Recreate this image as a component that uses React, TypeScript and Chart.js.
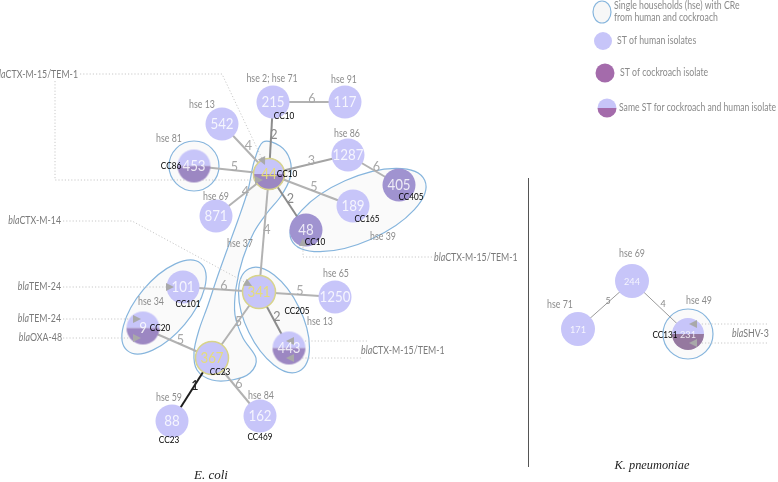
import React, { useEffect, useRef } from "react";
import { Chart, registerables } from "chart.js";

Chart.register(...registerables);

// ---------------- data ----------------
const NODE_ST = ["215", "117", "542", "453", "44", "1287", "871", "189", "48", "405", "101", "9", "341", "1250", "443", "367", "88", "162", "244", "171", "231"];
const NODE_X = [273, 345, 222, 194, 269, 348, 216, 353, 306, 399, 183, 143, 259, 335, 289, 212, 172, 260, 632, 578, 688];
const NODE_Y = [102, 102, 124, 166, 174, 155, 216, 206, 230, 185, 287, 328, 292, 297, 348, 358, 421, 416, 281, 329, 334];
const NODE_SOURCE = ["human", "human", "human", "both", "both", "human", "human", "human", "roach", "roach", "human", "both", "human", "human", "both", "human", "human", "human", "human", "human", "both"];
const NODE_SPECIES = ["E", "E", "E", "E", "E", "E", "E", "E", "E", "E", "E", "E", "E", "E", "E", "E", "E", "E", "K", "K", "K"];
const FOUNDER_ST = ["44", "341", "367"];

const EDGE_FROM = ["215", "215", "542", "453", "44", "44", "44", "871", "44", "1287", "101", "341", "341", "341", "9", "367", "367", "244", "244"];
const EDGE_TO = ["117", "44", "44", "44", "1287", "189", "48", "44", "341", "405", "341", "1250", "443", "367", "367", "88", "162", "171", "231"];
const EDGE_ALLELES = [6, 2, 4, 5, 3, 5, 2, 4, 4, 6, 6, 5, 2, 5, 5, 1, 6, 5, 4];

const HSE_TEXT = ["hse 2; hse 71", "hse 91", "hse 13", "hse 81", "hse 86", "hse 69", "hse 37", "hse 39", "hse 65", "hse 34", "hse 13", "hse 59", "hse 84", "hse 69", "hse 71", "hse 49"];
const CC_TEXT = ["CC86", "CC10", "CC10", "CC10", "CC165", "CC405", "CC101", "CC20", "CC205", "CC23", "CC23", "CC469", "CC131"];
const GENE_NAME = ["CTX-M-15/TEM-1", "CTX-M-14", "TEM-24", "TEM-24", "OXA-48", "CTX-M-15/TEM-1", "CTX-M-15/TEM-1", "SHV-3"];
const LEGEND_TEXT = ["Single households (hse) with CRe", "from human and cockroach", "ST of human isolates", "ST of cockroach isolate", "Same ST for cockroach and human isolate"];
const SPECIES_TITLE = ["E. coli", "K. pneumoniae"];

// ---------------- layout (annotation placement, data units = px of the 778x482 frame) ----------------
const HSE_POS = [[272, 79], [344, 80], [202, 105], [169, 139], [347, 134], [216, 197], [240, 244], [383, 237], [336, 274], [151, 302], [320, 322], [169, 398], [261, 396], [632, 254], [560, 305], [699, 301]];
const CC_POS = [[171, 166], [284, 116], [287, 174], [315, 242], [367, 219], [411, 197], [188, 304], [160, 328], [297, 311], [220, 372], [169, 440], [260, 437], [665, 335]];
const GENE_POS: [number, number, string][] = [[78, 75, "right"], [61, 221, "right"], [61, 287, "right"], [61, 319, "right"], [62, 338, "right"], [434, 258, "left"], [361, 351, "left"], [732, 334, "left"]];
const LEADERS: { pts: number[][]; arrow: boolean }[] = [
  { pts: [[55, 81], [55, 180], [263, 180]], arrow: true },
  { pts: [[80, 74], [222, 74], [265, 165]], arrow: true },
  { pts: [[63, 221], [132, 221], [252, 286]], arrow: true },
  { pts: [[63, 287], [174, 287]], arrow: true },
  { pts: [[63, 319], [141, 319]], arrow: true },
  { pts: [[63, 338], [141, 338]], arrow: true },
  { pts: [[432, 257], [303, 257], [303, 238]], arrow: true },
  { pts: [[367, 341], [286, 341]], arrow: true },
  { pts: [[361, 358], [286, 358]], arrow: true },
  { pts: [[767, 324], [689, 324]], arrow: true },
  { pts: [[767, 343], [689, 343]], arrow: true },
];
const HULLS: any[] = [
  { kind: "ellipse", cx: 194, cy: 166, rx: 25, ry: 25, rot: 0 },
  { kind: "ellipse", cx: 688, cy: 334, rx: 25, ry: 25, rot: 0 },
  { kind: "ellipse", cx: 358, cy: 210, rx: 73, ry: 32, rot: -24 },
  { kind: "ellipse", cx: 164, cy: 307, rx: 57, ry: 27, rot: -50 },
  { kind: "ellipse", cx: 274, cy: 320, rx: 57, ry: 28, rot: 64 },
  {
    kind: "path",
    pts: [[263, 142], [280, 146], [290, 160], [290, 178], [281, 196], [267, 213], [254, 232], [243, 258], [236, 288], [235, 315], [243, 338], [256, 358], [250, 373], [232, 380], [212, 380], [197, 370], [194, 352], [199, 330], [208, 305], [217, 278], [227, 250], [238, 220], [248, 190], [254, 162]],
  },
];

// ---------------- styles ----------------
const HUMAN = "#c7c5f9";
const ROACH = "#a093d0";
const MIX_BOTTOM = "#9c87c2";
const MIX_BOTTOM_K = "#95789f";
const LEG_ROACH = "#a46bab";
const RING = "#d8d48a";
const HULL_STROKE = "#86b5dd";
const FONT = "Lato, 'Open Sans', sans-serif";

function makeSplit(r: number, top: string, bottom: string, ring?: string) {
  const pad = 2;
  const size = Math.ceil(2 * r + 2 * pad);
  const c = document.createElement("canvas");
  c.width = size;
  c.height = size;
  const g = c.getContext("2d")!;
  const m = size / 2;
  g.beginPath();
  g.arc(m, m, r, Math.PI, 2 * Math.PI);
  g.closePath();
  g.fillStyle = top;
  g.fill();
  g.beginPath();
  g.arc(m, m, r, 0, Math.PI);
  g.closePath();
  g.fillStyle = bottom;
  g.fill();
  if (ring) {
    g.beginPath();
    g.arc(m, m, r - 0.5, 0, 2 * Math.PI);
    g.strokeStyle = ring;
    g.lineWidth = 1.5;
    g.stroke();
  }
  return c;
}

function txt(ctx: CanvasRenderingContext2D, s: string, x: number, y: number, font: string, color: string, align: CanvasTextAlign = "center", hs = 0.86) {
  ctx.save();
  ctx.font = font;
  ctx.fillStyle = color;
  ctx.textBaseline = "middle";
  ctx.textAlign = align;
  ctx.translate(x, y);
  ctx.scale(hs, 1);
  ctx.fillText(s, 0, 0);
  ctx.restore();
}

function smoothClosed(ctx: CanvasRenderingContext2D, pts: number[][]) {
  const n = pts.length;
  ctx.moveTo(pts[0][0], pts[0][1]);
  for (let i = 0; i < n; i++) {
    const p0 = pts[(i - 1 + n) % n], p1 = pts[i], p2 = pts[(i + 1) % n], p3 = pts[(i + 2) % n];
    ctx.bezierCurveTo(
      p1[0] + (p2[0] - p0[0]) / 6, p1[1] + (p2[1] - p0[1]) / 6,
      p2[0] - (p3[0] - p1[0]) / 6, p2[1] - (p3[1] - p1[1]) / 6,
      p2[0], p2[1]
    );
  }
  ctx.closePath();
}

function arrowHead(ctx: CanvasRenderingContext2D, fx: number, fy: number, tx: number, ty: number) {
  const dx = tx - fx, dy = ty - fy;
  const L = Math.hypot(dx, dy) || 1;
  const ux = dx / L, uy = dy / L;
  const len = 8, hw = 4;
  ctx.beginPath();
  ctx.moveTo(tx, ty);
  ctx.lineTo(tx - ux * len - uy * hw, ty - uy * len + ux * hw);
  ctx.lineTo(tx - ux * len + uy * hw, ty - uy * len - ux * hw);
  ctx.closePath();
  ctx.fillStyle = "#a9a9a9";
  ctx.fill();
}

const nodeIndex = (st: string) => NODE_ST.indexOf(st);

const networkPlugin = {
  id: "network",
  beforeDatasetsDraw(chart: any) {
    const { ctx, scales } = chart;
    const X = (v: number) => scales.x.getPixelForValue(v);
    const Y = (v: number) => scales.y.getPixelForValue(v);
    const kx = X(1) - X(0), ky = Y(1) - Y(0);
    ctx.save();
    HULLS.forEach((h) => {
      ctx.beginPath();
      if (h.kind === "ellipse") {
        ctx.ellipse(X(h.cx), Y(h.cy), h.rx * kx, h.ry * ky, (h.rot * Math.PI) / 180, 0, Math.PI * 2);
      } else {
        smoothClosed(ctx, h.pts.map((p: number[]) => [X(p[0]), Y(p[1])]));
      }
      ctx.fillStyle = "rgba(238,238,238,0.3)";
      ctx.fill();
      ctx.strokeStyle = HULL_STROKE;
      ctx.lineWidth = 1.2;
      ctx.stroke();
    });
    ctx.setLineDash([1.2, 2]);
    ctx.strokeStyle = "#c8c8c8";
    ctx.lineWidth = 1;
    LEADERS.forEach((l) => {
      const pts = l.pts.map((p) => [X(p[0]), Y(p[1])]);
      const n = pts.length;
      const a = pts[n - 2], b = pts[n - 1];
      const L = Math.hypot(b[0] - a[0], b[1] - a[1]);
      const end = l.arrow ? [b[0] - ((b[0] - a[0]) / L) * 7, b[1] - ((b[1] - a[1]) / L) * 7] : b;
      ctx.beginPath();
      ctx.moveTo(pts[0][0], pts[0][1]);
      for (let i = 1; i < n - 1; i++) ctx.lineTo(pts[i][0], pts[i][1]);
      ctx.lineTo(end[0], end[1]);
      ctx.stroke();
    });
    ctx.setLineDash([]);
    ctx.beginPath();
    ctx.moveTo(X(528) + 0.5, Y(178));
    ctx.lineTo(X(528) + 0.5, Y(467));
    ctx.strokeStyle = "#555";
    ctx.lineWidth = 1;
    ctx.stroke();
    ctx.restore();
  },
  afterDatasetsDraw(chart: any) {
    const { ctx, scales } = chart;
    const X = (v: number) => scales.x.getPixelForValue(v);
    const Y = (v: number) => scales.y.getPixelForValue(v);
    ctx.save();
    LEADERS.forEach((l) => {
      const n = l.pts.length;
      const a = l.pts[n - 2], b = l.pts[n - 1];
      if (l.arrow) arrowHead(ctx, X(a[0]), Y(a[1]), X(b[0]), Y(b[1]));
    });
    NODE_ST.forEach((st, i) => {
      const k = NODE_SPECIES[i] === "K";
      const founder = FOUNDER_ST.includes(st);
      txt(ctx, st, X(NODE_X[i]), Y(NODE_Y[i]) + 0.5, `${k ? 10 : 14.5}px ${FONT}`, founder ? "#e6dd7a" : "rgba(255,255,255,0.82)", "center", 0.92);
    });
    EDGE_FROM.forEach((f, i) => {
      const a = nodeIndex(f), b = nodeIndex(EDGE_TO[i]);
      const mx = (NODE_X[a] + NODE_X[b]) / 2 + 3;
      const my = (NODE_Y[a] + NODE_Y[b]) / 2 - 4;
      const d = EDGE_ALLELES[i];
      const k = NODE_SPECIES[a] === "K";
      const col = d === 1 ? "#222" : d === 2 ? "#8a8a8a" : "#a8a8a8";
      txt(ctx, String(d), X(mx), Y(my), `${k ? 10 : 14}px ${FONT}`, k ? "#888" : col, "center", 0.9);
    });
    HSE_TEXT.forEach((s, i) => txt(ctx, s, X(HSE_POS[i][0]), Y(HSE_POS[i][1]), `10.5px ${FONT}`, "#8c8c8c", "center", 0.84));
    CC_TEXT.forEach((s, i) => txt(ctx, s, X(CC_POS[i][0]), Y(CC_POS[i][1]), `9.5px ${FONT}`, "#000", "center", 0.86));
    GENE_NAME.forEach((g, i) => {
      const [gx, gy, al] = GENE_POS[i];
      const hs = 0.84;
      const fIt = `italic 10.5px ${FONT}`, fRe = `10.5px ${FONT}`;
      ctx.font = fIt;
      const w1 = ctx.measureText("bla").width * hs;
      ctx.font = fRe;
      const w2 = ctx.measureText(g).width * hs;
      const start = al === "right" ? X(gx) - (w1 + w2) : X(gx);
      txt(ctx, "bla", start, Y(gy), fIt, "#7a7a7a", "left", hs);
      txt(ctx, g, start + w1, Y(gy), fRe, "#7a7a7a", "left", hs);
    });
    txt(ctx, SPECIES_TITLE[0], X(211), Y(476), `italic 13px 'Liberation Serif', 'DejaVu Serif', serif`, "#222", "center", 1);
    txt(ctx, SPECIES_TITLE[1], X(652), Y(466), `italic 13px 'Liberation Serif', 'DejaVu Serif', serif`, "#222", "center", 0.95);
    // legend
    ctx.beginPath();
    ctx.ellipse(X(602), Y(12), 9, 11, 0, 0, Math.PI * 2);
    ctx.fillStyle = "#f7f7f7";
    ctx.fill();
    ctx.strokeStyle = HULL_STROKE;
    ctx.lineWidth = 1.2;
    ctx.stroke();
    ctx.beginPath();
    ctx.arc(X(603), Y(41), 9, 0, Math.PI * 2);
    ctx.fillStyle = HUMAN;
    ctx.fill();
    ctx.beginPath();
    ctx.arc(X(605), Y(73), 9.5, 0, Math.PI * 2);
    ctx.fillStyle = LEG_ROACH;
    ctx.fill();
    ctx.beginPath();
    ctx.arc(X(607), Y(108), 9.5, Math.PI, 2 * Math.PI);
    ctx.closePath();
    ctx.fillStyle = HUMAN;
    ctx.fill();
    ctx.beginPath();
    ctx.arc(X(607), Y(108), 9.5, 0, Math.PI);
    ctx.closePath();
    ctx.fillStyle = LEG_ROACH;
    ctx.fill();
    const lf = `10.5px ${FONT}`;
    txt(ctx, LEGEND_TEXT[0], X(614), Y(6), lf, "#8a8a8a", "left", 0.83);
    txt(ctx, LEGEND_TEXT[1], X(614), Y(18), lf, "#8a8a8a", "left", 0.83);
    txt(ctx, LEGEND_TEXT[2], X(617), Y(41), lf, "#8a8a8a", "left", 0.83);
    txt(ctx, LEGEND_TEXT[3], X(620), Y(73), lf, "#8a8a8a", "left", 0.83);
    txt(ctx, LEGEND_TEXT[4], X(619), Y(108), lf, "#8a8a8a", "left", 0.82);
    ctx.restore();
  },
};

export default function App() {
  const ref = useRef<HTMLCanvasElement>(null);
  useEffect(() => {
    document.body.style.margin = "0";
    const canvas = ref.current!;

    const edgeDatasets = EDGE_FROM.map((f, i) => {
      const a = nodeIndex(f), b = nodeIndex(EDGE_TO[i]);
      const d = EDGE_ALLELES[i];
      const k = NODE_SPECIES[a] === "K";
      const color = k ? "#9a9a9a" : d === 1 ? "#1e1e1e" : d === 2 ? "#8c8c8c" : d === 3 ? "#a4a4a4" : "#b2b2b2";
      return {
        type: "scatter" as const,
        data: [
          { x: NODE_X[a], y: NODE_Y[a] },
          { x: NODE_X[b], y: NODE_Y[b] },
        ],
        showLine: true,
        borderColor: color,
        borderWidth: k ? 1 : 2,
        pointRadius: 0,
        order: 10,
        clip: false as any,
      };
    });

    const radii = NODE_ST.map((st, i) => (NODE_SPECIES[i] === "K" ? (st === "231" ? 16 : 17) : st === "44" ? 16 : 16.5));
    const styles = NODE_ST.map((st, i) => {
      if (NODE_SOURCE[i] !== "both") return "circle";
      const k = NODE_SPECIES[i] === "K";
      return makeSplit(radii[i], HUMAN, k ? MIX_BOTTOM_K : MIX_BOTTOM, FOUNDER_ST.includes(st) ? RING : undefined);
    });
    const fills = NODE_SOURCE.map((s) => (s === "roach" ? ROACH : HUMAN));

    const nodeDataset = {
      type: "scatter" as const,
      data: NODE_ST.map((_, i) => ({ x: NODE_X[i], y: NODE_Y[i] })),
      pointRadius: radii,
      pointHoverRadius: radii,
      pointStyle: styles as any,
      pointBackgroundColor: fills,
      pointBorderColor: NODE_ST.map((st) => (FOUNDER_ST.includes(st) ? RING : "rgba(0,0,0,0)")),
      pointBorderWidth: NODE_ST.map((st) => (FOUNDER_ST.includes(st) ? 1.5 : 0)),
      showLine: false,
      order: 0,
      clip: false as any,
    };

    const chart = new Chart(canvas, {
      type: "scatter",
      data: { datasets: [...edgeDatasets, nodeDataset] as any },
      options: {
        animation: false,
        responsive: false,
        maintainAspectRatio: false,
        events: [],
        layout: { padding: 0, autoPadding: false } as any,
        scales: {
          x: { type: "linear", min: 0, max: 778, display: false },
          y: { type: "linear", min: 0, max: 482, reverse: true, display: false },
        },
        plugins: { legend: { display: false }, tooltip: { enabled: false } },
      },
      plugins: [networkPlugin as any],
    });
    return () => chart.destroy();
  }, []);

  return (
    <div style={{ position: "fixed", left: 0, top: 0, width: 778, height: 482, background: "#fff" }}>
      <canvas ref={ref} width={778} height={482} style={{ display: "block", width: 778, height: 482 }} />
    </div>
  );
}
